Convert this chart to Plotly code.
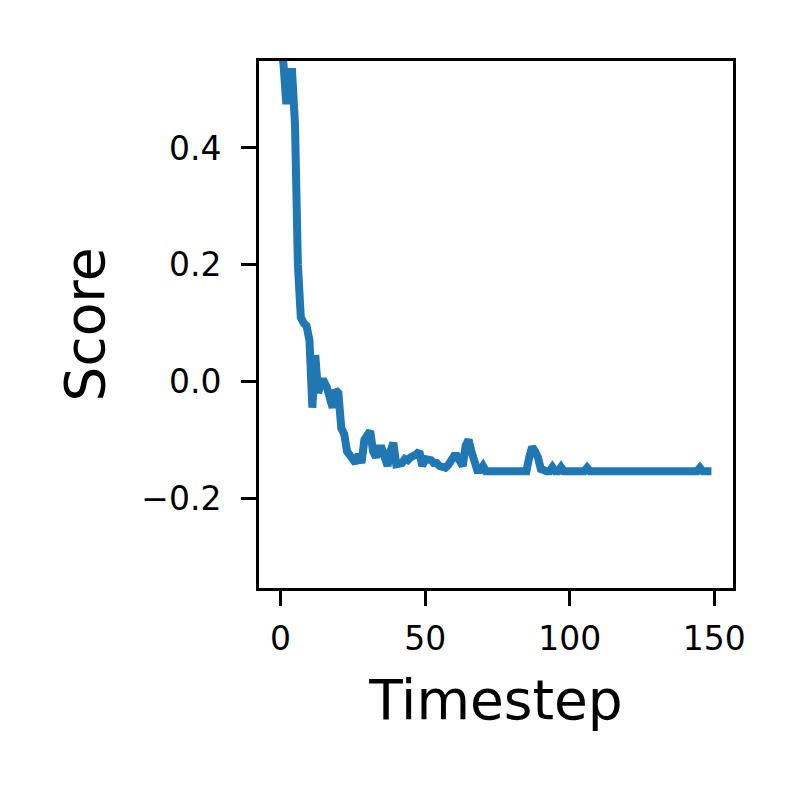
import plotly.graph_objects as go

timesteps = list(range(150))
scores = [
    0.57, 0.545, 0.475, 0.53, 0.53, 0.44, 0.20, 0.11, 0.10, 0.095,
    0.07, -0.045, 0.045, -0.02, 0.0, 0.0, -0.01, -0.03, -0.045, -0.015,
    -0.02, -0.08, -0.09, -0.12, -0.128, -0.135, -0.14, -0.125, -0.14, -0.10,
    -0.09, -0.085, -0.12, -0.13, -0.115, -0.115, -0.13, -0.145, -0.12, -0.105,
    -0.142, -0.142, -0.14, -0.133, -0.135, -0.13, -0.128, -0.125, -0.12, -0.145,
    -0.133, -0.133, -0.135, -0.14, -0.14, -0.145, -0.148, -0.148, -0.143, -0.135,
    -0.128, -0.128, -0.135, -0.145, -0.11, -0.10, -0.12, -0.14, -0.152, -0.152,
    -0.145, -0.154, -0.154, -0.154, -0.154, -0.154, -0.154, -0.154, -0.154, -0.154,
    -0.154, -0.154, -0.154, -0.154, -0.154, -0.154, -0.13, -0.112, -0.12, -0.13,
    -0.15, -0.154, -0.154, -0.154, -0.147, -0.154, -0.154, -0.147, -0.154, -0.154,
    -0.154, -0.154, -0.154, -0.154, -0.154, -0.154, -0.148, -0.154, -0.154, -0.154,
    -0.154, -0.154, -0.154, -0.154, -0.154, -0.154, -0.154, -0.154, -0.154, -0.154,
    -0.154, -0.154, -0.154, -0.154, -0.154, -0.154, -0.154, -0.154, -0.154, -0.154,
    -0.154, -0.154, -0.154, -0.154, -0.154, -0.154, -0.154, -0.154, -0.154, -0.154,
    -0.154, -0.154, -0.154, -0.154, -0.154, -0.148, -0.154, -0.154, -0.154, -0.154,
]

x_ticks = [0, 50, 100, 150]
y_ticks = [-0.2, 0.0, 0.2, 0.4]
y_tick_labels = ["\u22120.2", "0.0", "0.2", "0.4"]

font_family = "DejaVu Sans"

fig = go.Figure(
    go.Scatter(
        x=timesteps,
        y=scores,
        mode="lines",
        line=dict(color="#1f77b4", width=8),
        showlegend=False,
    )
)

axis_common = dict(
    showline=True,
    mirror=True,
    linewidth=3,
    linecolor="black",
    ticks="outside",
    ticklen=15,
    tickwidth=3,
    tickcolor="black",
    showgrid=False,
    zeroline=False,
    tickfont=dict(family=font_family, size=33, color="black"),
)

fig.update_layout(
    width=800,
    height=800,
    margin=dict(l=251, r=75, t=53, b=220),
    paper_bgcolor="white",
    plot_bgcolor="white",
    font=dict(family=font_family, color="black"),
    xaxis=dict(
        range=[-7.45, 156.45],
        tickvals=x_ticks,
        ticklabelstandoff=4,
        title=dict(text="Timestep", font=dict(family=font_family, size=55, color="black"), standoff=24),
        **axis_common,
    ),
    yaxis=dict(
        range=[-0.354, 0.549],
        tickvals=y_ticks,
        ticktext=y_tick_labels,
        ticklabelstandoff=13,
        title=dict(text="Score", font=dict(family=font_family, size=55, color="black"), standoff=20),
        **axis_common,
    ),
)

fig.write_html("out.html")
